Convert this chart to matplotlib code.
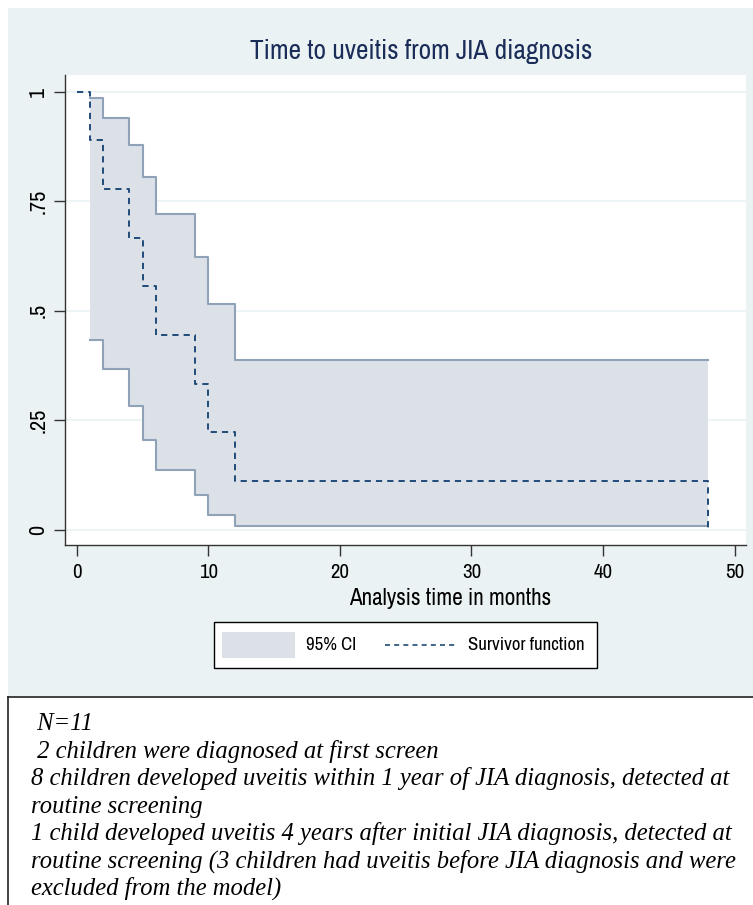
import matplotlib
matplotlib.use("Agg")
import matplotlib.pyplot as plt
from matplotlib.patches import Rectangle
from matplotlib.lines import Line2D

SANS = ['Archivo Narrow', 'Liberation Sans', 'DejaVu Sans']
SERIF = ['Liberation Serif', 'DejaVu Serif']

# ---- data ----
surv_times = [0, 1, 2, 4, 5, 6, 9, 10, 12, 48]
surv_vals = [1.0, 0.889, 0.778, 0.667, 0.556, 0.444, 0.333, 0.222, 0.111, 0.0]
ci_times = [1, 2, 4, 5, 6, 9, 10, 12, 48]
ci_upper = [0.985, 0.939, 0.879, 0.805, 0.720, 0.623, 0.515, 0.388, 0.388]
ci_lower = [0.434, 0.366, 0.282, 0.205, 0.136, 0.080, 0.034, 0.0075, 0.0075]
x_ticks = [0, 10, 20, 30, 40, 50]
y_ticks = [0, 0.25, 0.5, 0.75, 1]
y_ticklabels = ['0', '.25', '.5', '.75', '1']
title = 'Time to uveitis from JIA diagnosis'
xlabel = 'Analysis time in months'
legend_labels = ['95% CI', 'Survivor function']
note_lines = [
    ' N=11',
    ' 2 children were diagnosed at first screen',
    '8 children developed uveitis within 1 year of JIA diagnosis, detected at',
    'routine screening',
    '1 child developed uveitis 4 years after initial JIA diagnosis, detected at',
    'routine screening (3 children had uveitis before JIA diagnosis and were',
    'excluded from the model)',
]

W, H = 753, 905
fig = plt.figure(figsize=(W / 100, H / 100), dpi=100)
fig.patch.set_facecolor('white')

def fx(px):
    return px / W

def fy(py):
    return 1 - py / H

BG = '#eaf2f3'
fig.patches.append(Rectangle((fx(8), fy(697)), fx(W - 8), (697 - 8) / H,
                             transform=fig.transFigure, facecolor=BG, edgecolor='none', zorder=-5))

ax = fig.add_axes([fx(65), fy(545), fx(746 - 65), (545 - 75) / H])
ax.set_zorder(2)
ax.set_facecolor('white')
ax.set_xlim(-0.89, 50.86)
ax.set_ylim(-0.035, 1.038)

FILL = '#dce1e8'
EDGE = '#8fa2b8'
NAVY = '#1f4a78'

ax.fill_between(ci_times, ci_lower, ci_upper, step='post', facecolor=FILL, edgecolor='none', zorder=2)
ax.step(ci_times, ci_upper, where='post', color=EDGE, lw=1.5, zorder=3)
ax.step(ci_times, ci_lower, where='post', color=EDGE, lw=1.5, zorder=3)
ax.step(surv_times, surv_vals, where='post', color=NAVY, lw=1.4, ls=(0, (3.2, 2.6)), zorder=4)

for yv in y_ticks:
    ax.axhline(yv, color=BG, lw=1.2, zorder=1)

for s in ['top', 'right']:
    ax.spines[s].set_visible(False)
for s in ['left', 'bottom']:
    ax.spines[s].set_color('#333333')
    ax.spines[s].set_linewidth(1.0)

ax.set_xticks(x_ticks)
ax.set_xticklabels([str(v) for v in x_ticks], fontfamily=SANS, fontsize=15)
ax.set_yticks(y_ticks)
ax.set_yticklabels(y_ticklabels, fontfamily=SANS, fontsize=16, rotation=90, va='center')
ax.tick_params(axis='x', direction='out', length=8, width=1.0, color='#333333', pad=5)
ax.tick_params(axis='y', direction='out', length=8, width=1.0, color='#333333', pad=4)

fig.text(fx(421), fy(52), title, ha='center', va='center', fontsize=19.7,
         color='#1a2c58', fontfamily=SANS, zorder=5)
fig.text(fx(450), fy(598), xlabel, ha='center', va='center', fontsize=16.7,
         color='black', fontfamily=SANS, zorder=5)

fig.patches.append(Rectangle((fx(214), fy(668)), fx(597 - 214), (668 - 622) / H,
                             transform=fig.transFigure, facecolor='white', edgecolor='black',
                             lw=1.0, zorder=5))
fig.patches.append(Rectangle((fx(222), fy(658)), fx(295 - 222), (658 - 632) / H,
                             transform=fig.transFigure, facecolor=FILL, edgecolor='none', zorder=6))
fig.text(fx(306), fy(645), legend_labels[0], ha='left', va='center', fontsize=13.5,
         fontfamily=SANS, zorder=7)
fig.lines.append(Line2D([fx(385), fx(456)], [fy(645), fy(645)], transform=fig.transFigure,
                        color=NAVY, lw=1.2, ls=(0, (3, 2.5)), zorder=7))
fig.text(fx(468), fy(645), legend_labels[1], ha='left', va='center', fontsize=13.5,
         fontfamily=SANS, zorder=7)

fig.lines.append(Line2D([fx(8), fx(W)], [fy(697), fy(697)], transform=fig.transFigure,
                        color='#222222', lw=1.2))
fig.lines.append(Line2D([fx(8), fx(8)], [fy(697), fy(H)], transform=fig.transFigure,
                        color='#222222', lw=1.2))

y0 = 730
dy = 27.5
for i, line in enumerate(note_lines):
    fig.text(fx(31), fy(y0 + i * dy), line, ha='left', va='baseline', fontsize=17.7,
             fontstyle='italic', fontfamily=SERIF, color='black')

fig.savefig('out.png', dpi=100, facecolor='white')
